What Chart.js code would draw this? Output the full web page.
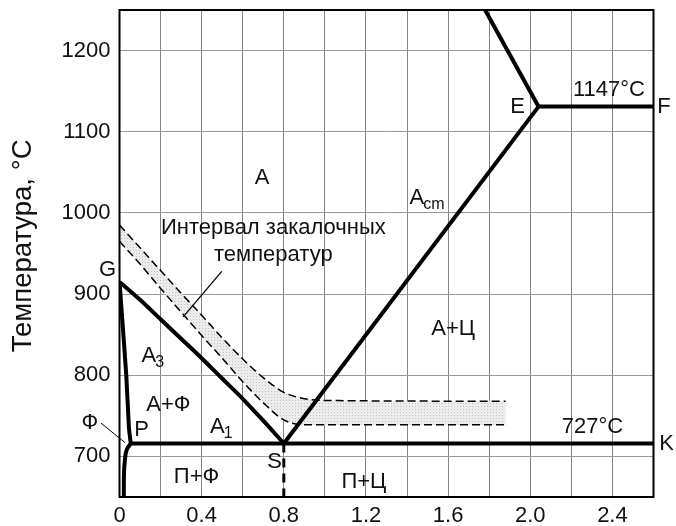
<!DOCTYPE html>
<html>
<head>
<meta charset="utf-8">
<script src="https://cdn.jsdelivr.net/npm/chart.js@4"></script>
<style>
  html, body { margin:0; padding:0; background:#fff; }
  #wrap { width:676px; height:526px; }
</style>
</head>
<body>
<div id="wrap"><canvas id="chart" width="676" height="526"></canvas></div>
<script>
// Fe-C diagram, steel corner
const xTickValues = [0, 0.4, 0.8, 1.2, 1.6, 2.0, 2.4];
const xTickLabels = ['0', '0.4', '0.8', '1.2', '1.6', '2.0', '2.4'];
const xGridValues = [0, 0.2, 0.4, 0.6, 0.8, 1.0, 1.2, 1.4, 1.6, 1.8, 2.0, 2.2, 2.4, 2.6];
const yTickValues = [700, 800, 900, 1000, 1100, 1200];

// GS (A3)
const gsX = [0, 0.1, 0.2, 0.3, 0.4, 0.5, 0.6, 0.7, 0.8];
const gsT = [915, 893, 869, 845, 821, 796, 771, 744, 716];
// GP
const gpX = [0, 0.033, 0.046, 0.055];
const gpT = [915, 800, 735, 716];
// P down (solubility in ferrite)
const pqX = [0.055, 0.035, 0.026, 0.022, 0.021];
const pqT = [716, 708, 695, 680, 650];
// PSK
const pkX = [0.055, 2.6];
const pkT = [716, 716];
// SE (Acm)
const seX = [0.8, 2.04];
const seT = [716, 1131];
// E up to top
const eTopX = [2.04, 1.78];
const eTopT = [1131, 1250];
// ECF
const efX = [2.04, 2.6];
const efT = [1131, 1131];
// S down, dashed
const sDownX = [0.8, 0.8];
const sDownT = [716, 650];
// quenching interval band
const bandX = [0, 0.1, 0.2, 0.3, 0.4, 0.5, 0.6, 0.7, 0.8, 0.9, 1.0, 1.88];
const bandUpperT = [985, 957, 929, 901, 874, 846, 820, 797, 779, 771, 769, 768];
const bandLowerT = [965, 937, 907, 878, 849, 821, 792, 766, 745, 739, 739, 739];
// leader lines
const phiLeadX = [-0.09, 0.027];
const phiLeadT = [741, 717];
const bandLeadX = [0.498, 0.31];
const bandLeadT = [928, 872];

// text labels (x in %C, y in °C)
const labels = [
  { t: 'A', x: 0.694, y: 1043 },
  { t: 'A', sub: 'cm', x: 1.50, y: 1019 },
  { t: 'A+Ц', x: 1.625, y: 857 },
  { t: 'A', sub: '3', x: 0.165, y: 824 },
  { t: 'A+Ф', x: 0.238, y: 763 },
  { t: 'P', x: 0.108, y: 733 },
  { t: 'A', sub: '1', x: 0.498, y: 736 },
  { t: 'П+Ф', x: 0.375, y: 675 },
  { t: 'S', x: 0.755, y: 693 },
  { t: 'П+Ц', x: 1.19, y: 668 },
  { t: '727°C', x: 2.303, y: 736 },
  { t: 'K', x: 2.664, y: 715 },
  { t: 'E', x: 1.938, y: 1130 },
  { t: 'F', x: 2.651, y: 1130 },
  { t: '1147°C', x: 2.383, y: 1151 },
  { t: 'G', x: -0.058, y: 930 },
  { t: 'Ф', x: -0.144, y: 741 },
  { t: 'Интервал закалочных', x: 0.749, y: 981 },
  { t: 'температур', x: 0.749, y: 948 }
];

const FONT = '"Liberation Sans", Arial, sans-serif';

function pts(xs, ys){ return xs.map((x, i) => ({ x: x, y: ys[i] })); }

function stipple(){
  const c = document.createElement('canvas');
  c.width = 3; c.height = 3;
  const g = c.getContext('2d');
  g.fillStyle = '#ececec'; g.fillRect(0, 0, 3, 3);
  g.fillStyle = '#c4c4c4'; g.fillRect(1, 1, 1, 1);
  return g.createPattern(c, 'repeat');
}

function thick(xs, ys, extra){
  return Object.assign({
    data: pts(xs, ys), borderColor: '#000', borderWidth: 4,
    pointRadius: 0, fill: false, tension: 0, borderCapStyle: 'butt'
  }, extra || {});
}

const framePlugin = {
  id: 'frame',
  afterDatasetsDraw(chart){
    const a = chart.chartArea, ctx = chart.ctx;
    ctx.save();
    ctx.strokeStyle = '#000';
    ctx.lineWidth = 2;
    ctx.strokeRect(a.left, a.top, a.right - a.left, a.bottom - a.top);
    ctx.restore();
  }
};

const labelPlugin = {
  id: 'labels',
  afterDraw(chart){
    const ctx = chart.ctx, xs = chart.scales.x, ys = chart.scales.y;
    const size = 22;
    ctx.save();
    ctx.fillStyle = '#111';
    ctx.textBaseline = 'middle';
    labels.forEach(l => {
      const px = xs.getPixelForValue(l.x), py = ys.getPixelForValue(l.y);
      ctx.font = size + 'px ' + FONT;
      if(!l.sub){
        ctx.textAlign = 'center';
        ctx.fillText(l.t, px, py);
        return;
      }
      const w1 = ctx.measureText(l.t).width;
      const subSize = Math.round(size * 0.72);
      ctx.font = subSize + 'px ' + FONT;
      const w2 = ctx.measureText(l.sub).width;
      const left = px - (w1 + w2) / 2;
      ctx.textAlign = 'left';
      ctx.font = size + 'px ' + FONT;
      ctx.fillText(l.t, left, py);
      ctx.font = subSize + 'px ' + FONT;
      ctx.fillText(l.sub, left + w1 - 1, py + size * 0.3);
    });
    ctx.restore();
  }
};

const ctx = document.getElementById('chart').getContext('2d');
new Chart(ctx, {
  type: 'line',
  data: {
    datasets: [
      thick(gsX, gsT, { tension: 0.3 }),
      thick(gpX, gpT, { tension: 0.2 }),
      thick(pqX, pqT, { tension: 0.4 }),
      thick(pkX, pkT),
      thick(seX, seT),
      thick(eTopX, eTopT),
      thick(efX, efT),
      thick(sDownX, sDownT, { borderWidth: 3, borderDash: [9, 6] }),
      thick(phiLeadX, phiLeadT, { borderWidth: 1, clip: false }),
      thick(bandLeadX, bandLeadT, { borderWidth: 1.3 }),
      thick(bandX, bandUpperT, { borderWidth: 1.5, borderDash: [8, 4], cubicInterpolationMode: 'monotone' }),
      thick(bandX, bandLowerT, { borderWidth: 1.5, borderDash: [8, 4], cubicInterpolationMode: 'monotone',
        fill: '-1', backgroundColor: stipple() })
    ]
  },
  options: {
    responsive: false,
    animation: false,
    layout: { padding: { left: 0, right: 22.5, top: 10, bottom: 0 } },
    plugins: { legend: { display: false }, tooltip: { enabled: false } },
    scales: {
      x: {
        type: 'linear', min: 0, max: 2.6,
        afterBuildTicks: s => { s.ticks = xGridValues.map(v => ({ value: v })); },
        afterFit: s => { s.height = 29; s.paddingLeft = 0; s.paddingRight = 0; },
        grid: { color: '#858585', lineWidth: 1, drawTicks: false },
        border: { display: false },
        ticks: {
          autoSkip: false, maxRotation: 0, padding: 6, color: '#111',
          font: { family: FONT, size: 22 },
          callback: v => {
            const i = xTickValues.findIndex(t => Math.abs(t - v) < 1e-6);
            return i >= 0 ? xTickLabels[i] : '';
          }
        }
      },
      y: {
        type: 'linear', min: 650, max: 1250,
        afterBuildTicks: s => { s.ticks = yTickValues.map(v => ({ value: v })); },
        afterFit: s => { s.width = 119.5; s.paddingTop = 0; s.paddingBottom = 0; },
        grid: { color: '#999', lineWidth: 1, drawTicks: false },
        border: { display: false },
        ticks: {
          padding: 9, color: '#111', font: { family: FONT, size: 22 },
          callback: v => String(v)
        },
        title: {
          // two leading no-break spaces nudge the centred title upward, as in the picture
          display: true, text: '\u00a0\u00a0Температура, °C', color: '#111',
          font: { family: FONT, size: 27.5 }, padding: { top: 7, bottom: 0 }
        }
      }
    }
  },
  plugins: [framePlugin, labelPlugin]
});
</script>
</body>
</html>
